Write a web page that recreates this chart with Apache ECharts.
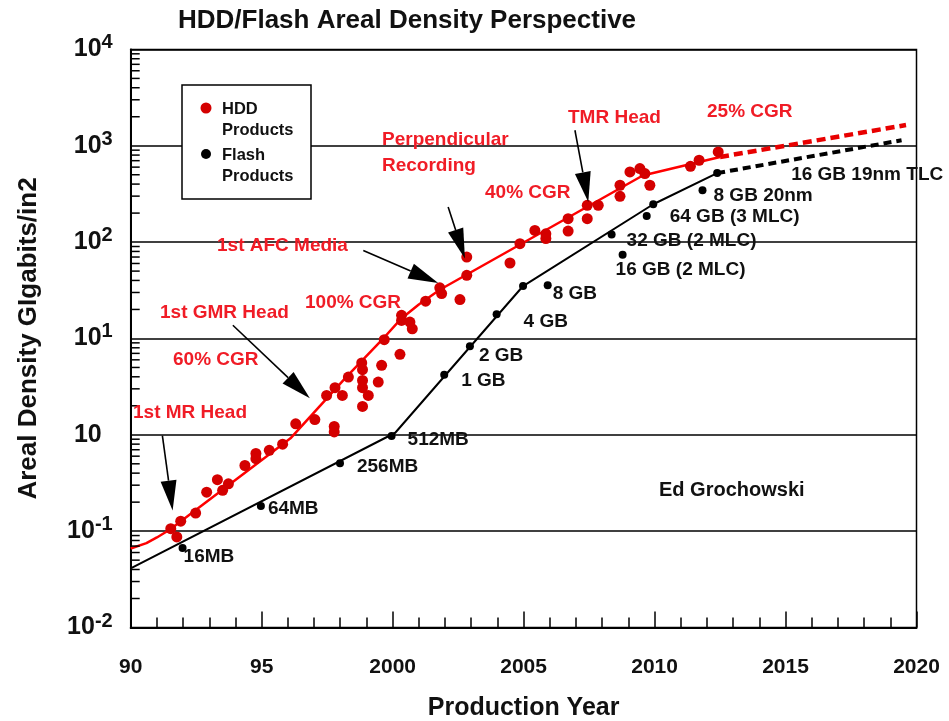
<!DOCTYPE html>
<html>
<head>
<meta charset="utf-8">
<script src="https://cdn.jsdelivr.net/npm/echarts@6/dist/echarts.min.js"></script>
<style>
  html, body { margin: 0; padding: 0; background: #fff; }
  #chart { width: 949px; height: 721px; }
</style>
</head>
<body>
<div id="chart"></div>
<script>
// ---- HDD product points (year, Gbit/in2) ----
const hddYears = [
  1991.53, 1991.76, 1991.91, 1992.48, 1992.90, 1993.31, 1993.51, 1993.73, 1994.36, 1994.78,
  1994.78, 1995.29, 1995.80, 1996.30, 1997.03, 1997.77, 1997.77, 1997.48, 1997.80, 1998.08,
  1998.31, 1998.82, 1998.85, 1998.85, 1998.85, 1999.07, 1998.85, 1999.45, 1999.58, 1999.68,
  2000.28, 2000.34, 2000.34, 2000.66, 2000.75, 2001.26, 2001.80, 2001.87, 2002.57, 2002.83,
  2002.83, 2004.48, 2004.86, 2005.43, 2005.85, 2005.85, 2006.70, 2006.70, 2007.43, 2007.43,
  2007.85, 2008.68, 2008.68, 2009.06, 2009.44, 2009.63, 2009.82, 2011.37, 2011.70, 2012.43
];
const hddDensity = [
  0.106, 0.087, 0.127, 0.154, 0.254, 0.342, 0.265, 0.31, 0.48, 0.64,
  0.565, 0.69, 0.80, 1.30, 1.44, 1.22, 1.07, 2.56, 3.08, 2.56,
  3.97, 5.56, 4.74, 3.67, 3.08, 2.56, 1.97, 3.53, 5.26, 9.7,
  6.84, 17.4, 15.4, 14.8, 12.6, 24.4, 33.5, 29.2, 25.3, 45.2,
  70, 60.7, 96.4, 132, 122, 109, 175, 130, 241, 175,
  241, 389, 299, 535, 580, 514, 389, 612, 707, 863
];

// HDD growth fit (solid) and projection (dashed)
const hddFitYears   = [1990.0, 1990.6, 1991.0, 1991.5, 1995.8, 1996.1, 1998.2, 1999.6, 2000.3, 2001.0, 2001.8, 2009.55, 2012.5];
const hddFitDensity = [0.066, 0.075, 0.086, 0.104, 0.80, 0.92, 3.9, 9.7, 15.8, 22.5, 32, 491, 765];
const hddTrendYears   = [2012.5, 2019.6];
const hddTrendDensity = [765, 1640];

// ---- Flash product points ----
const flashYears = [1991.98, 1994.97, 1997.99, 1999.96, 2001.97, 2002.95, 2003.97, 2004.98, 2005.92, 2008.36, 2008.78, 2009.70, 2009.95, 2011.83, 2012.39];
const flashDensity = [0.067, 0.182, 0.508, 0.97, 4.2, 8.3, 17.8, 35, 35.6, 120, 74, 187, 247, 345, 520];
const flashLabels = ['16MB', '64MB', '256MB', '512MB', '1 GB', '2 GB', '4 GB', '', '8 GB', '32 GB (2 MLC)', '16 GB (2 MLC)', '64 GB (3 MLC)', '', '8 GB 20nm', '16 GB 19nm TLC'];

// Flash growth fit (solid) and projection (dashed)
const flashFitYears   = [1990.0, 2000.1, 2004.98, 2009.95, 2012.39];
const flashFitDensity = [0.041, 1.05, 35, 247, 520];
const flashTrendYears   = [2012.39, 2019.43];
const flashTrendDensity = [520, 1140];

// ---- Axis ticks ----
const xTicks = [1990, 1995, 2000, 2005, 2010, 2015, 2020];
const xTickLabels = ['90', '95', '2000', '2005', '2010', '2015', '2020'];
const yDecades = [0.01, 0.1, 1, 10, 100, 1000, 10000];

// ---- Callouts: text and arrows (arrow ends in data units) ----
const calloutTexts = ['1st MR Head', '1st GMR Head', '60% CGR', '100% CGR', '1st AFC Media', 'Perpendicular', 'Recording', '40% CGR', 'TMR Head', '25% CGR'];
const arrowTailYears = [1991.21, 1993.9, 1998.88, 2002.12, 2006.96];
const arrowTailValues = [0.98, 13.7, 82, 231, 1449];
const arrowTipYears = [1991.6, 1996.84, 2001.74, 2002.76, 2007.47];
const arrowTipValues = [0.164, 2.39, 37.6, 67.4, 261];

// text placement (pixels) for callouts and label offsets for flash points
const calloutPos = [[133, 413], [160, 313], [173, 360], [305, 303], [217, 246], [382, 140], [382, 166], [485, 193], [568, 118], [707, 112]];
const flashLabelOffsets = [[1, 9], [7, 3], [17, 4], [16, 4], [17, 6], [9, 10], [27, 7], [0, 0], [5, 8], [15, 6], [-7, 15], [23, 1], [0, 0], [11, 5], [74, 2]];

const FONT = '"Liberation Sans", Arial, Helvetica, sans-serif';
const INK = '#111111';
const RED_TEXT = '#f01c26';

// log-axis minor ticks: 2..9 within each decade
const yMinorTicks = [];
for (let i = 0; i < yDecades.length - 1; i++) {
  for (let m = 2; m <= 9; m++) yMinorTicks.push(yDecades[i] * m);
}

const zip = (xs, ys) => xs.map((x, i) => [x, ys[i]]);

const chart = echarts.init(document.getElementById('chart'), null, { renderer: 'canvas' });

const option = {
  animation: false,
  backgroundColor: '#fff',
  title: {
    text: 'HDD/Flash Areal Density Perspective',
    left: 173, top: 3,
    textStyle: { fontFamily: FONT, fontSize: 26, fontWeight: 'bold', color: INK }
  },
  grid: {
    left: 130.7, right: 32.5, top: 49.4, bottom: 93.5,
    outerBoundsMode: 'none', containLabel: false,
    show: true, borderColor: '#000', borderWidth: 1.5, backgroundColor: 'transparent'
  },
  xAxis: {
    type: 'value', min: 1990, max: 2020, interval: 5,
    axisLine: { show: true, onZero: false, lineStyle: { color: '#000', width: 2 } },
    axisTick: { show: true, inside: true, length: 16, lineStyle: { color: '#000', width: 1.5 } },
    minorTick: { show: true, splitNumber: 5, length: 10, lineStyle: { color: '#000', width: 1.5 } },
    splitLine: { show: false },
    axisLabel: {
      formatter: v => xTickLabels[xTicks.indexOf(v)] || '',
      fontFamily: FONT, fontSize: 21, fontWeight: 'bold', color: INK, margin: 29
    },
    name: 'Production Year', nameLocation: 'middle', nameGap: 68,
    nameTextStyle: { fontFamily: FONT, fontSize: 25, fontWeight: 'bold', color: INK }
  },
  yAxis: {
    type: 'log', logBase: 10, min: 0.01, max: 10000,
    axisLine: { show: true, lineStyle: { color: '#000', width: 2 } },
    axisTick: { show: false },
    splitLine: { show: true, lineStyle: { color: '#000', width: 1.5 } },
    axisLabel: {
      margin: 18,
      formatter: v => {
        const e = Math.round(Math.log10(v));
        return e === 0 ? '{b|10}{pad|}' : '{b|10}{s|' + e + '}';
      },
      rich: {
        b: { fontFamily: FONT, fontSize: 25, fontWeight: 'bold', color: INK },
        s: { fontFamily: FONT, fontSize: 20, fontWeight: 'bold', color: INK, padding: [0, 0, 13, 0] },
        pad: { width: 11 }
      }
    },
    name: 'Areal Density GIgabits/in2', nameLocation: 'middle', nameGap: 89,
    nameTextStyle: { fontFamily: FONT, fontSize: 26, fontWeight: 'bold', color: INK }
  },
  series: [
    {
      name: 'HDD fit', type: 'line', data: zip(hddFitYears, hddFitDensity),
      showSymbol: false, silent: true, z: 3,
      lineStyle: { color: '#ff0000', width: 2.5 }
    },
    {
      name: 'HDD projection', type: 'line', data: zip(hddTrendYears, hddTrendDensity),
      showSymbol: false, silent: true, z: 3,
      lineStyle: { color: '#e80000', width: 4.5, type: [9, 5] }
    },
    {
      name: 'Flash fit', type: 'line', data: zip(flashFitYears, flashFitDensity),
      showSymbol: false, silent: true, z: 3,
      lineStyle: { color: '#000', width: 2 }
    },
    {
      name: 'Flash projection', type: 'line', data: zip(flashTrendYears, flashTrendDensity),
      showSymbol: false, silent: true, z: 3,
      lineStyle: { color: '#000', width: 4, type: [8, 5] }
    },
    {
      name: 'HDD Products', type: 'scatter', data: zip(hddYears, hddDensity),
      symbol: 'circle', symbolSize: 11, z: 4,
      itemStyle: { color: '#d40000', opacity: 1 }
    },
    {
      name: 'Flash Products', type: 'scatter', z: 5,
      symbol: 'circle', symbolSize: 8,
      itemStyle: { color: '#000', opacity: 1 },
      data: flashYears.map((x, i) => ({
        value: [x, flashDensity[i]],
        label: {
          show: flashLabels[i] !== '',
          formatter: flashLabels[i],
          position: 'inside', align: 'left', verticalAlign: 'middle',
          offset: flashLabelOffsets[i],
          fontFamily: FONT, fontSize: 19, fontWeight: 'bold', color: INK, opacity: 1
        }
      }))
    },
    {
      name: 'minor ticks', type: 'custom', silent: true, clip: false, z: 6,
      data: yMinorTicks.map(v => [1990, v]),
      renderItem: (params, api) => {
        const p = api.coord([api.value(0), api.value(1)]);
        return {
          type: 'line',
          shape: { x1: p[0], y1: p[1], x2: p[0] + 9, y2: p[1] },
          style: { stroke: '#000', lineWidth: 1.5 }
        };
      }
    }
  ]
};

chart.setOption(option);

// Callout arrows, positioned through the chart's own axes
const graphics = [];
for (let i = 0; i < arrowTipYears.length; i++) {
  const a = chart.convertToPixel({ gridIndex: 0 }, [arrowTailYears[i], arrowTailValues[i]]);
  const b = chart.convertToPixel({ gridIndex: 0 }, [arrowTipYears[i], arrowTipValues[i]]);
  const dx = b[0] - a[0], dy = b[1] - a[1];
  const len = Math.hypot(dx, dy);
  const ux = dx / len, uy = dy / len;
  const headLen = 30, headHalf = 8;
  const bx = b[0] - ux * headLen, by = b[1] - uy * headLen;
  graphics.push({
    type: 'line', z: 50,
    shape: { x1: a[0], y1: a[1], x2: bx, y2: by },
    style: { stroke: '#000', lineWidth: 1.6 }
  });
  graphics.push({
    type: 'polygon', z: 50,
    shape: { points: [[b[0], b[1]], [bx - uy * headHalf, by + ux * headHalf], [bx + uy * headHalf, by - ux * headHalf]] },
    style: { fill: '#000' }
  });
}

// Callout text
calloutTexts.forEach((t, i) => {
  graphics.push({
    type: 'text', z: 60,
    style: {
      text: t, x: calloutPos[i][0], y: calloutPos[i][1],
      align: 'left', verticalAlign: 'middle',
      fontFamily: FONT, fontSize: 19, fontWeight: 'bold', fill: RED_TEXT
    }
  });
});

// Author credit
graphics.push({
  type: 'text', z: 60,
  style: {
    text: 'Ed Grochowski', x: 659, y: 490, align: 'left', verticalAlign: 'middle',
    fontFamily: FONT, fontSize: 20, fontWeight: 'bold', fill: INK
  }
});

// Legend box
graphics.push({
  type: 'group', z: 70,
  children: [
    { type: 'rect', shape: { x: 182, y: 85, width: 129, height: 114 }, style: { fill: '#fff', stroke: '#000', lineWidth: 1.5 } },
    { type: 'circle', shape: { cx: 206, cy: 108, r: 5.5 }, style: { fill: '#d40000' } },
    { type: 'circle', shape: { cx: 206, cy: 154, r: 5 }, style: { fill: '#000' } },
    { type: 'text', style: { text: 'HDD', x: 222, y: 109, verticalAlign: 'middle', fontFamily: FONT, fontSize: 16.5, fontWeight: 'bold', fill: INK } },
    { type: 'text', style: { text: 'Products', x: 222, y: 130, verticalAlign: 'middle', fontFamily: FONT, fontSize: 16.5, fontWeight: 'bold', fill: INK } },
    { type: 'text', style: { text: 'Flash', x: 222, y: 155, verticalAlign: 'middle', fontFamily: FONT, fontSize: 16.5, fontWeight: 'bold', fill: INK } },
    { type: 'text', style: { text: 'Products', x: 222, y: 176, verticalAlign: 'middle', fontFamily: FONT, fontSize: 16.5, fontWeight: 'bold', fill: INK } }
  ]
});

chart.setOption({ graphic: graphics });
</script>
</body>
</html>
